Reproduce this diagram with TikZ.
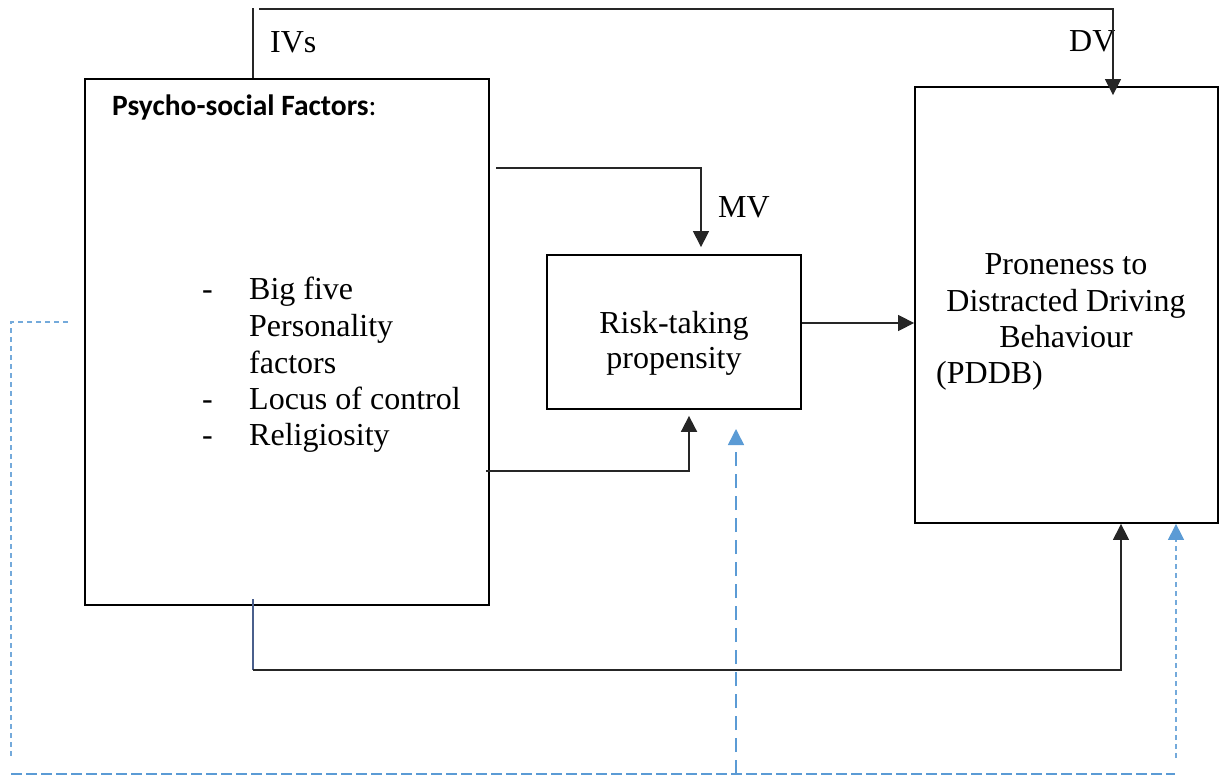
\documentclass[tikz,border=0pt]{standalone}
\usepackage{fontspec}
\setmainfont{Liberation Serif}
\newfontfamily\calib{Carlito}
\usetikzlibrary{arrows.meta}
\definecolor{lblue}{HTML}{5B9BD5}
\definecolor{slateb}{HTML}{4A5F8C}
\definecolor{lineg}{HTML}{262626}
\begin{document}
\begin{tikzpicture}[x=1pt,y=-1pt,
  box/.style={draw=black, line width=1.8pt, inner sep=0pt},
  conn/.style={draw=lineg, line width=1.3pt},
  tip/.style={-{Triangle[width=16pt,length=16pt]}},
  arr/.style={conn, tip},
  txt/.style={font=\fontsize{32}{37}\selectfont, inner sep=0pt, anchor=base},
  txtl/.style={txt, anchor=base west},
  fdash/.style={draw=lblue!85, line width=1.3pt, dash pattern=on 5pt off 4pt},
  mdash/.style={draw=lblue, line width=1.6pt, dash pattern=on 11pt off 4pt},
  ldash/.style={draw=lblue, line width=1.6pt, dash pattern=on 14pt off 8pt},
  btip/.style={-{Triangle[width=16pt,length=16pt,color=lblue]}}
]
\useasboundingbox (0,0) rectangle (1222,775);

% boxes
\node[box, minimum width=404pt, minimum height=526pt] (psb) at (287,342) {};
\node[box, minimum width=254pt, minimum height=154pt] (risk) at (674,332) {};
\node[box, minimum width=303pt, minimum height=436pt] (pddb) at (1066.5,305) {};

% labels
\node[txtl] (ivs) at (270,53) {IVs};
\node[txtl] (dv) at (1069,52) {DV};
\node[txtl] (mv) at (718,218) {MV};

\node[inner sep=0pt, anchor=base west, font=\fontsize{29.5}{34}\selectfont\calib] (pst) at (112,116) {\textbf{Psycho-social Factors}:};

\node[txtl] (d1) at (202,300) {-};
\node[txtl] (l1) at (249,300) {Big five};
\node[txtl] (l2) at (249,336) {Personality};
\node[txtl] (l3) at (249,373) {factors};
\node[txtl] (d2) at (202,409) {-};
\node[txtl] (l4) at (249,409) {Locus of control};
\node[txtl] (d3) at (202,445) {-};
\node[txtl] (l5) at (249,445) {Religiosity};

\node[txt] (r1) at (674,333) {Risk-taking};
\node[txt] (r2) at (674,368) {propensity};

\node[txt] (p1) at (1066,275) {Proneness to};
\node[txt] (p2) at (1066,311) {Distracted Driving};
\node[txt] (p3) at (1066,347) {Behaviour};
\node[txtl] (p4) at (936,383) {(PDDB)};

% bend coordinates
\coordinate (t1) at (253,8);
\coordinate (t2) at (259,9);
\coordinate (t3) at (1113,9);
\coordinate (m1) at (496,168);
\coordinate (m2) at (701,168);
\coordinate (a3) at (801,323);
\coordinate (b1) at (486,471);
\coordinate (b2) at (689,471);
\coordinate (c1) at (253,599);
\coordinate (c2) at (253,670);
\coordinate (c3) at (1121,670);
\coordinate (e1) at (68,322);
\coordinate (e2) at (11,322);
\coordinate (e3) at (11,757);
\coordinate (f1) at (11,774);
\coordinate (f2) at (1175,774);
\coordinate (g1) at (1176,758);
\coordinate (h1) at (736,774);
\coordinate (h2) at (736,429);

% black connectors
\draw[conn] (psb.north -| t1) -- (t1);
\draw[arr, shorten >=-9pt] (t2) -| (pddb.north -| t3);
\draw[arr, shorten >=7pt] (m1) -| (risk.north -| m2);
\draw[arr] (risk.east |- a3) -- (pddb.west |- a3);
\draw[arr, line width=1.8pt, shorten >=6pt] (b1) -| (risk.south -| b2);
\draw[draw=slateb, line width=1.5pt] (c1) -- (c2);
\draw[arr] (c2) -| (pddb.south -| c3);

% blue dashed connectors
\draw[fdash] (e1) -- (e2) -- (e3);
\draw[mdash] (f1) -- (f2);
\draw[fdash, btip] (g1) -- (pddb.south -| g1);
\draw[ldash, btip] (h1) -- (h2);
\end{tikzpicture}
\end{document}
